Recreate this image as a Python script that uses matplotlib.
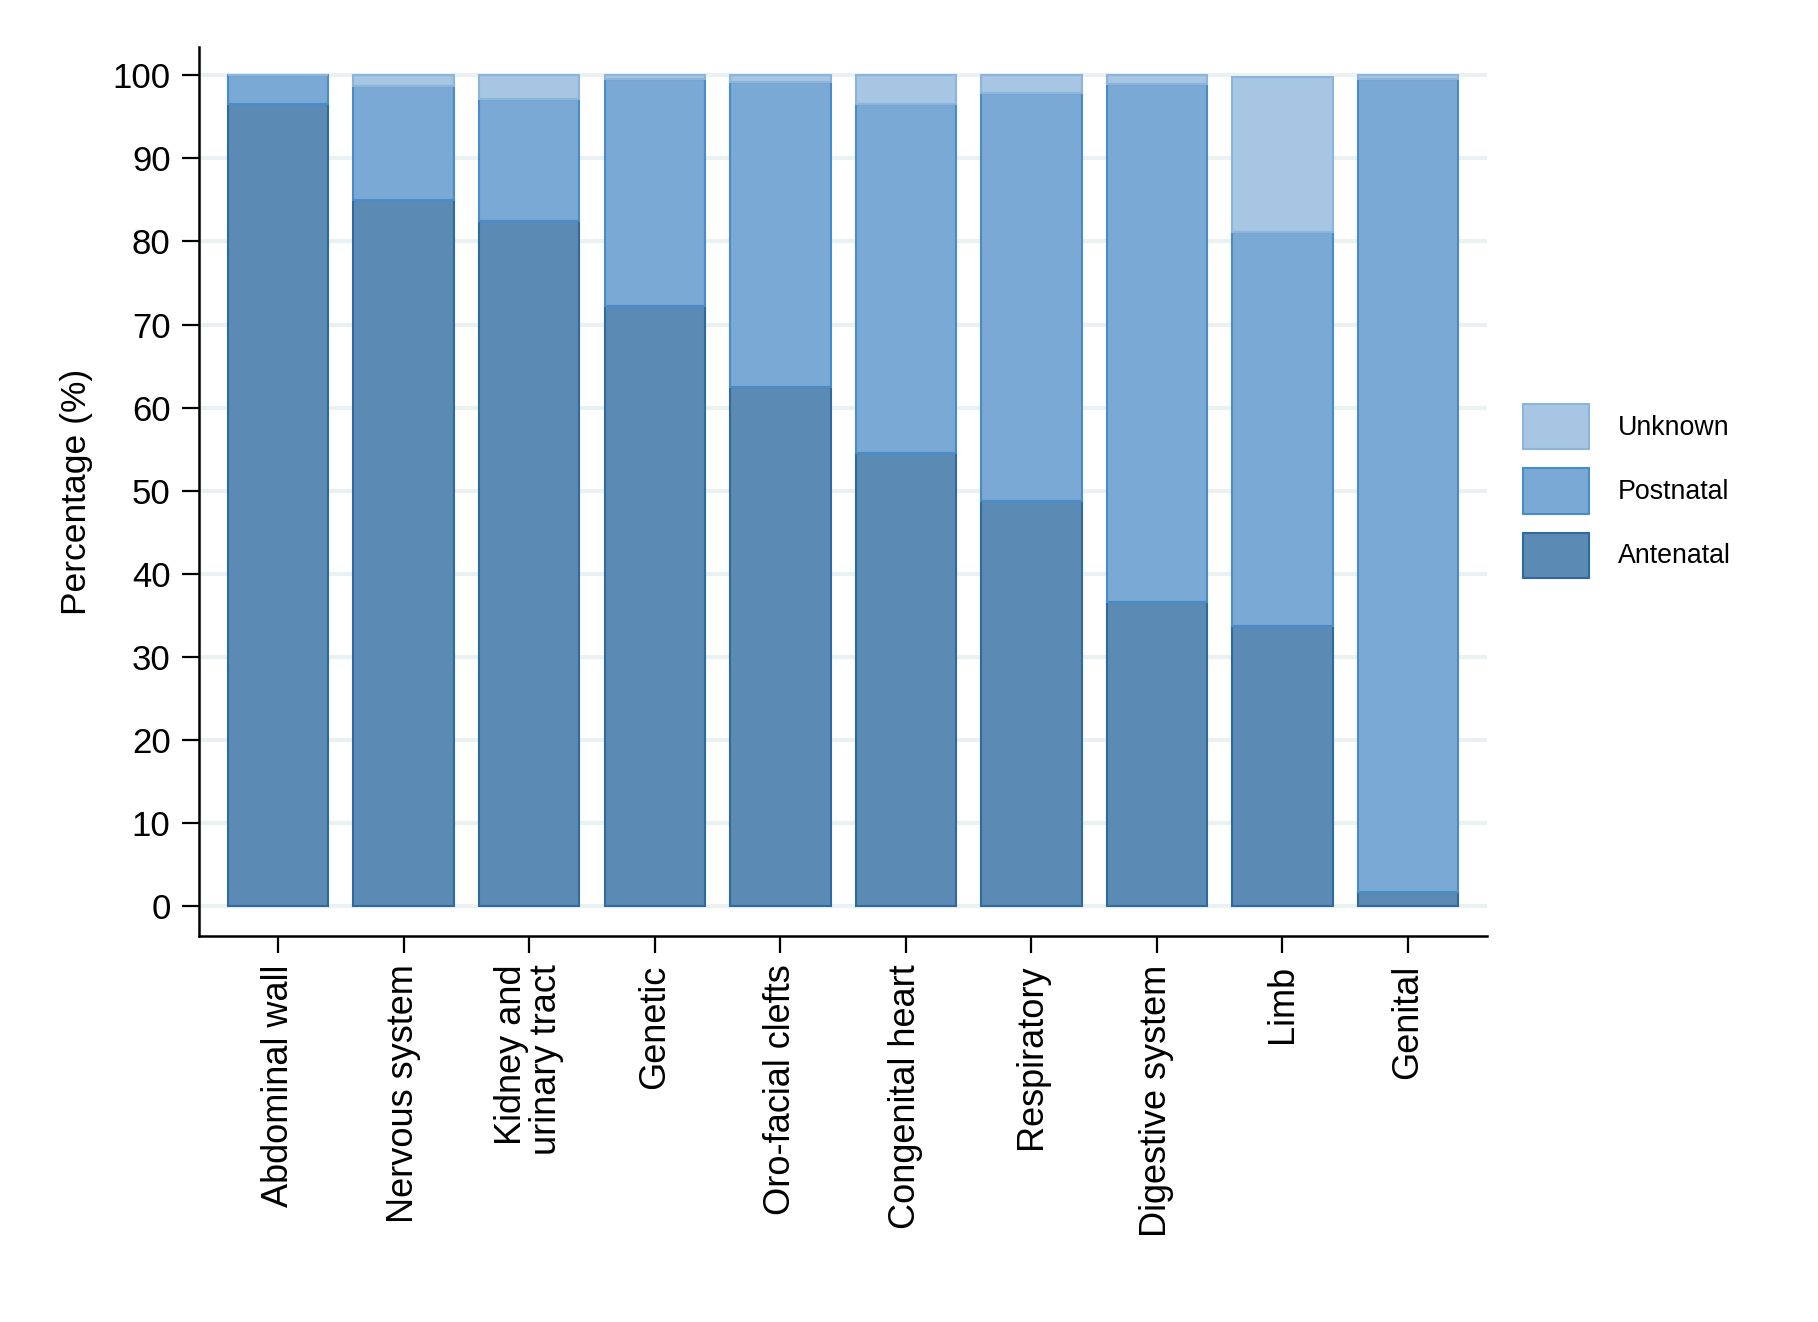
import numpy as np
import matplotlib
matplotlib.use("Agg")
import matplotlib.pyplot as plt

plt.rcParams["font.family"] = ["Liberation Sans", "DejaVu Sans"]

categories = ["Abdominal wall", "Nervous system", "Kidney and\nurinary tract", "Genetic",
              "Oro-facial clefts", "Congenital heart", "Respiratory", "Digestive system",
              "Limb", "Genital"]
antenatal = [96.6, 85.0, 82.5, 72.2, 62.5, 54.5, 48.8, 36.6, 33.7, 1.7]
postnatal = [3.4, 13.7, 14.7, 27.4, 36.7, 42.1, 49.1, 62.3, 47.4, 97.9]
unknown = [0.0, 1.3, 2.8, 0.4, 0.8, 3.4, 2.1, 1.1, 18.7, 0.4]

x = np.arange(len(categories))
ant = np.array(antenatal)
post = np.array(postnatal)
unk = np.array(unknown)

fig = plt.figure(figsize=(18.18, 13.22), dpi=100)
ax = fig.add_axes([0.1095, 0.292, 0.7085, 0.6724])

w = 0.8
b1 = ax.bar(x, ant, w, color="#5b8ab5", edgecolor="#2e6aa0", linewidth=1.5,
            label="Antenatal", zorder=3)
b2 = ax.bar(x, post, w, bottom=ant, color="#79a9d4", edgecolor="#4a8bc9",
            linewidth=1.5, label="Postnatal", zorder=3)
b3 = ax.bar(x, unk, w, bottom=ant + post, color="#a6c6e3", edgecolor="#8db4da",
            linewidth=1.5, label="Unknown", zorder=3)

ax.set_xlim(-0.63, 9.63)
ax.set_ylim(-3.6, 103.4)
ax.set_yticks(range(0, 101, 10))
ax.set_xticks(x)
ax.set_xticklabels(categories, rotation=90, fontsize=26, multialignment="right",
                   linespacing=1.0)
ax.tick_params(axis="y", labelsize=25, length=12, width=1.6, pad=8.5)
ax.tick_params(axis="x", length=12, width=1.6, pad=8.5)
ax.yaxis.grid(True, color="#eaf1f3", linewidth=2.9, zorder=0)
ax.set_axisbelow(True)

for s in ["top", "right"]:
    ax.spines[s].set_visible(False)
for s in ["left", "bottom"]:
    ax.spines[s].set_linewidth(1.8)

ax.set_ylabel("Percentage (%)", fontsize=25.5, labelpad=14)

ax.legend([b3, b2, b1], ["Unknown", "Postnatal", "Antenatal"], loc="center left",
          bbox_to_anchor=(0.8377, 0.6286), bbox_transform=fig.transFigure,
          frameon=False, fontsize=19.3, handlelength=2.46, handleheight=2.21,
          labelspacing=0.71, handletextpad=1.08, borderpad=0, borderaxespad=0)

fig.savefig("out.png", dpi=100)
